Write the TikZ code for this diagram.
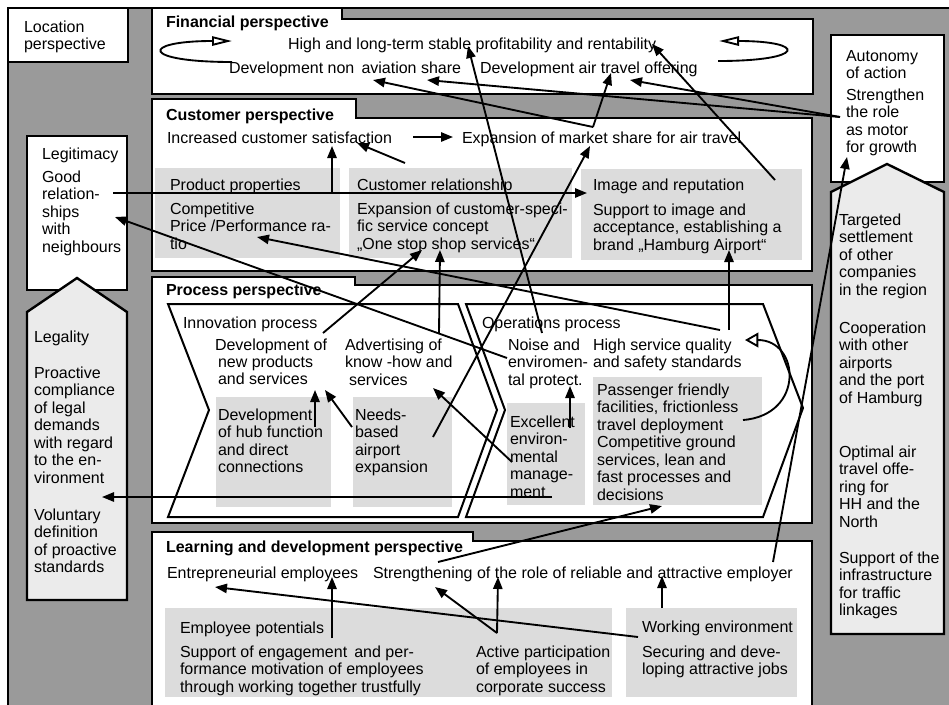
\documentclass[tikz,border=0pt]{standalone}
\usepackage{fontspec}
\setmainfont{Liberation Sans}
\usetikzlibrary{arrows.meta}
\definecolor{bggray}{HTML}{9A9A9A}
\definecolor{lightbox}{HTML}{DCDCDC}
\definecolor{pentfill}{HTML}{EBEBEB}
\newcommand\ml[1]{\vtop{\halign{##\hfil\cr#1\crcr}}}
\begin{document}
\begin{tikzpicture}[x=0.75pt,y=-0.75pt,
  every node/.style={inner sep=0pt, outer sep=0pt, anchor=base west, font=\fontsize{12}{13.125}\selectfont},
  ttl/.style={font=\fontsize{12}{13.125}\selectfont\bfseries},
  box/.style={draw=black, line width=1.8pt, fill=white, line join=miter},
  pent/.style={draw=black, line width=1.8pt, fill=pentfill},
  gbox/.style={fill=lightbox},
  chev/.style={draw=black, line width=1.5pt},
  arr/.style={line width=1.4pt, -{Triangle[length=9pt,width=7pt]}},
  loop/.style={line width=1.4pt, -{Triangle[open,length=15pt,width=7pt]}},
  bigopen/.style={line width=1.4pt, -{Triangle[open,length=10pt,width=11pt]}}]
\useasboundingbox (0,0) rectangle (949,704);
\clip (0,0) rectangle (949,704);
\fill[white] (0,0) rectangle (949,704);
\draw[fill=bggray, line width=1.2pt] (8,8) rectangle (965,720);

% left column
\draw[box] (8,8) rectangle (128,62);
\node (loc) at (24,32) {\ml{Location\cr perspective}};
\draw[box] (27,136) rectangle (127,290);
\node (legit) at (42,159) {Legitimacy};
\node (legitt) at (42,182) {\ml{Good\cr relation-\cr ships\cr with\cr neighbours}};
\draw[pent] (27,600)--(27,312)--(77,278)--(127,312)--(127,600)--cycle;
\node (legal) at (34,342) {Legality};
\node (legalt) at (34,378) {\ml{Proactive\cr compliance\cr of legal\cr demands\cr with regard\cr to the en-\cr vironment}};
\node (legalv) at (34,520) {\ml{Voluntary\cr definition\cr of proactive\cr standards}};

% right column
\draw[box] (831,35) rectangle (944,182);
\node (auto) at (846,61) {\ml{Autonomy\cr of action}};
\node (autot) at (846,100) {\ml{Strengthen\cr the role\cr as motor\cr for growth}};
\draw[pent] (831,634)--(831,192)--(887,164)--(944,192)--(944,634)--cycle;
\node (targ) at (839,225) {\ml{Targeted\cr settlement\cr of other\cr companies\cr in the region}};
\node (coop) at (839,333) {\ml{Cooperation\cr with other\cr airports\cr and the port\cr of Hamburg}};
\node (opt) at (839,457) {\ml{Optimal air\cr travel offe-\cr ring for\cr HH and the\cr North}};
\node (supp) at (839,563) {\ml{Support of the\cr infrastructure\cr for traffic\cr linkages}};

% perspective boxes
\draw[box] (152,94)--(152,8)--(342,8)--(342,19)--(813,19)--(813,94)--cycle;
\draw[box] (152,271)--(152,99)--(356,99)--(356,118)--(812,118)--(812,271)--cycle;
\draw[box] (152,523)--(152,277)--(355,277)--(355,285)--(812,285)--(812,523)--cycle;
\draw[box] (152,720)--(152,532)--(473,532)--(473,541)--(812,541)--(812,720)--cycle;

% gray boxes
\fill[gbox] (155,168) rectangle (340,258);
\fill[gbox] (349,168) rectangle (572,258);
\fill[gbox] (581,169) rectangle (802,260);
\fill[gbox] (216,397) rectangle (331,507);
\fill[gbox] (353,397) rectangle (452,507);
\fill[gbox] (507,403) rectangle (585,505);
\fill[gbox] (593,377) rectangle (762,505);
\fill[gbox] (165,608) rectangle (612,697);
\fill[gbox] (626,608) rectangle (797,697);

% chevrons
\draw[chev] (168,304)--(458,304)--(497,410)--(458,517)--(168,517)--(209,410)--cycle;
\draw[chev] (466,304)--(763,304)--(803,408)--(763,517)--(466,517)--(505,410)--cycle;

% financial
\node[ttl] (fin) at (166,27) {Financial perspective};
\node (prof) at (288,49) {High and long-term stable profitability and rentability};
\node (nonav) at (229,73) {Development non\, aviation share};
\node (airoff) at (480,73) {Development air travel offering};

% customer
\node[ttl] (cus) at (166,120) {Customer perspective};
\node (incr) at (167,143) {Increased customer satisfaction};
\node (expm) at (462,143) {Expansion of market share for air travel};
\node (prod) at (170,190) {Product properties};
\node (prodt) at (170,214) {\ml{Competitive\cr Price /Performance ra-\cr tio}};
\node (crel) at (357,190) {Customer relationship};
\node (crelt) at (357,214) {\ml{Expansion of customer-speci-\cr fic service concept\cr „One stop shop services“}};
\node (img) at (593,190) {Image and reputation};
\node (imgt) at (593,215) {\ml{Support to image and\cr acceptance, establishing a\cr brand „Hamburg Airport“}};

% process
\node[ttl] (proc) at (166,295) {Process perspective};
\node (innov) at (183,328) {Innovation process};
\node (devnew) at (215,350) {Development of};
\node (devnewt) at (218,367) {\ml{new products\cr and services}};
\node (adv) at (345,350) {\ml{Advertising of\cr know -how and}};
\node (advt) at (349,385) {services};
\node (hub) at (218,420) {\ml{Development\cr of hub function\cr and direct\cr connections}};
\node (needs) at (355,420) {\ml{Needs-\cr based\cr airport\cr expansion}};
\node (oper) at (482,328) {Operations process};
\node (noise) at (508,350) {\ml{Noise and\cr enviromen-\cr tal protect.}};
\node (hsq) at (593,350) {\ml{High service quality\cr and safety standards}};
\node (excel) at (510,427) {\ml{Excellent\cr environ-\cr mental\cr manage-\cr ment}};
\node (pass) at (597,395) {\ml{Passenger friendly\cr facilities, frictionless\cr travel deployment\cr Competitive ground\cr services, lean and\cr fast processes and\cr decisions}};

% learning
\node[ttl] (learn) at (166,552) {Learning and development perspective};
\node (entre) at (167,578) {Entrepreneurial employees};
\node (stren) at (373,578) {Strengthening of the role of reliable and attractive employer};
\node (emp) at (180,633) {Employee potentials};
\node (empt) at (180,657) {\ml{Support of engagement\, and per-\cr formance motivation of employees\cr through working together trustfully}};
\node (act) at (476,657) {\ml{Active participation\cr of employees in\cr corporate success}};
\node (work) at (642,632) {Working environment};
\node (workt) at (642,657) {\ml{Securing and deve-\cr loping attractive jobs}};

% connector end points
\coordinate (lA1) at (232,62); \coordinate (lA2) at (232,41);
\coordinate (lB1) at (718,61); \coordinate (lB2) at (719,41);
\coordinate (ms) at (593,127);
\coordinate (msT1) at (611,73);
\coordinate (msT2) at (373,80);
\coordinate (role) at (840,117);
\coordinate (roleT1) at (630,80);
\coordinate (roleT2) at (427,80);
\coordinate (imgS) at (775,180);
\coordinate (profT1) at (652,44);
\coordinate (noiseS) at (542,333);
\coordinate (profT2) at (468,46);
\coordinate (needsS) at (433,437);
\coordinate (msT3) at (590,146);
\coordinate (incrS) at (413,137);
\coordinate (expT) at (453,137);
\coordinate (prodS) at (332,193);
\coordinate (incrT1) at (332,146);
\coordinate (crelS) at (405,163);
\coordinate (incrT2) at (357,143);
\coordinate (legS) at (113,193);
\coordinate (imgT1) at (587,193);
\coordinate (devS) at (323,333);
\coordinate (shopT1) at (422,250);
\coordinate (advS) at (439,333);
\coordinate (shopT2) at (440,250);
\coordinate (envS) at (507,358);
\coordinate (legT) at (115,217);
\coordinate (hsqS1) at (720,330);
\coordinate (priceT) at (257,237);
\coordinate (hsqS2) at (729,330);
\coordinate (imgT2) at (729,250);
\coordinate (passS) at (743,420);
\coordinate (hsqT) at (745,340);
\coordinate (excS) at (570,428);
\coordinate (noiseT) at (570,386);
\coordinate (hubS) at (315,427);
\coordinate (devT1) at (315,390);
\coordinate (needS2) at (352,427);
\coordinate (devT2) at (325,390);
\coordinate (mgmtS) at (512,462);
\coordinate (advT) at (433,388);
\coordinate (mentS) at (552,497);
\coordinate (legalT) at (102,497);
\coordinate (strS) at (438,562);
\coordinate (decT) at (662,506);
\coordinate (emplS) at (773,562);
\coordinate (autoT) at (847,157);
\coordinate (empS) at (332,638);
\coordinate (entreT1) at (332,577);
\coordinate (workS1) at (638,637);
\coordinate (entreT2) at (215,587);
\coordinate (actS) at (497,633);
\coordinate (strT1) at (498,577);
\coordinate (strT2) at (435,587);
\coordinate (workS2) at (662,608);
\coordinate (strT3) at (662,576);

% connectors
\draw[loop] (lA1) .. controls (140,62) and (140,41) .. (lA2);
\draw[loop] (lB1) .. controls (807,61) and (807,41) .. (lB2);
\draw[arr] (ms) -- (msT1);
\draw[arr] (ms) -- (msT2);
\draw[arr] (role) -- (roleT1);
\draw[arr] (role) -- (roleT2);
\draw[arr] (imgS) -- (profT1);
\draw[arr] (noiseS) -- (profT2);
\draw[arr] (needsS) -- (msT3);
\draw[arr] (incrS) -- (expT);
\draw[arr] (prodS) -- (incrT1);
\draw[arr] (crelS) -- (incrT2);
\draw[arr] (legS) -- (imgT1);
\draw[arr] (devS) -- (shopT1);
\draw[arr] (advS) -- (shopT2);
\draw[arr] (envS) -- (legT);
\draw[arr] (hsqS1) -- (priceT);
\draw[arr] (hsqS2) -- (imgT2);
\draw[bigopen] (passS) .. controls (805,415) and (800,340) .. (hsqT);
\draw[arr] (excS) -- (noiseT);
\draw[arr] (hubS) -- (devT1);
\draw[arr] (needS2) -- (devT2);
\draw[arr] (mgmtS) -- (advT);
\draw[arr] (mentS) -- (legalT);
\draw[arr] (strS) -- (decT);
\draw[arr] (emplS) -- (autoT);
\draw[arr] (empS) -- (entreT1);
\draw[arr] (workS1) -- (entreT2);
\draw[arr] (actS) -- (strT1);
\draw[arr] (actS) -- (strT2);
\draw[arr] (workS2) -- (strT3);
\end{tikzpicture}
\end{document}
